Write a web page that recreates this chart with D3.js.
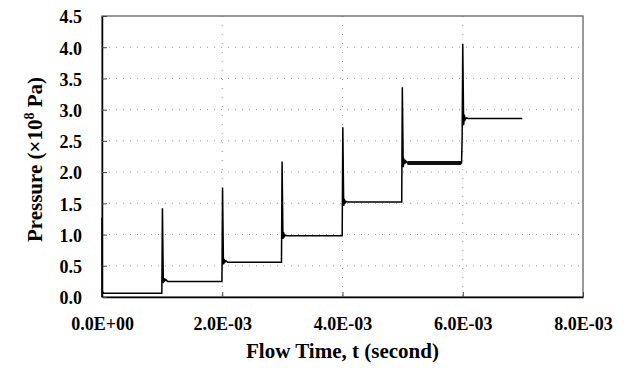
<!DOCTYPE html>
<html>
<head>
<meta charset="utf-8">
<script src="https://cdn.jsdelivr.net/npm/d3@7"></script>
<style>
    body { margin: 0; background: #fff; }
    svg text { font-family: "Liberation Serif", "Times New Roman", serif; font-weight: bold; fill: #000; }
</style>
</head>
<body>
<svg id="chart" width="624" height="374"></svg>
<script>
// Flow time (ms) and pressure (x10^8 Pa)
const timeMs = [
    0, 0, 0.004, 0.01, 0.03, 0.99,
    0.995, 1.005, 1.02, 1.03, 1.045, 1.06, 1.09, 1.99,
    1.995, 2.005, 2.02, 2.03, 2.045, 2.06, 2.09, 2.98,
    2.985, 2.995, 3.01, 3.02, 3.035, 3.05, 3.08, 3.99,
    3.995, 4.005, 4.02, 4.03, 4.045, 4.06, 4.09, 4.98,
    4.985, 4.995, 5.01, 5.02, 5.035, 5.05, 5.08, 5.975,
    5.98, 5.99, 6.0, 6.015, 6.025, 6.04, 6.06, 6.09, 6.99
];
const pressure = [
    0, 1.27, 0.12, 0.08, 0.06, 0.06,
    0.06, 1.42, 0.22, 0.3, 0.26, 0.28, 0.25, 0.25,
    0.25, 1.75, 0.52, 0.61, 0.56, 0.58, 0.555, 0.555,
    0.555, 2.17, 0.93, 1.04, 0.97, 0.99, 0.98, 0.98,
    0.98, 2.72, 1.46, 1.57, 1.51, 1.53, 1.52, 1.52,
    1.52, 3.36, 2.08, 2.22, 2.13, 2.18, 2.145, 2.145,
    2.145, 2.55, 4.05, 2.75, 2.92, 2.84, 2.87, 2.86, 2.86
];
// the plateau between these times is drawn as a noisy (thick) band
const noisyBand = [5.08, 5.975];

const xTicks = [0, 0.002, 0.004, 0.006, 0.008];
const xTickLabels = ["0.0E+00", "2.0E-03", "4.0E-03", "6.0E-03", "8.0E-03"];
const yTicks = [0, 0.5, 1, 1.5, 2, 2.5, 3, 3.5, 4, 4.5];
const yTickLabels = ["0.0", "0.5", "1.0", "1.5", "2.0", "2.5", "3.0", "3.5", "4.0", "4.5"];

const CHART = {
    selector: "#chart",
    margin: { top: 16, right: 41, bottom: 77, left: 102 },
    width: 624,
    height: 374,
};

function drawChart(chart) {
    chart.svg = d3.select(chart.selector);
    const w = chart.width - chart.margin.left - chart.margin.right;
    const h = chart.height - chart.margin.top - chart.margin.bottom;

    const x = d3.scaleLinear().domain([0, 0.008]).range([0, w]);
    const y = d3.scaleLinear().domain([0, 4.5]).range([h, 0]);

    const g = chart.svg.append("g")
        .attr("transform", `translate(${chart.margin.left},${chart.margin.top})`);

    // faint dotted grid
    g.append("g").selectAll("line.hg")
        .data(yTicks.slice(1, -1))
        .join("line")
        .attr("x1", 0).attr("x2", w)
        .attr("y1", d => y(d)).attr("y2", d => y(d))
        .attr("stroke", "#999").attr("stroke-dasharray", "1,6");
    g.append("g").selectAll("line.vg")
        .data(xTicks.slice(1, -1))
        .join("line")
        .attr("y1", 0).attr("y2", h)
        .attr("x1", d => x(d)).attr("x2", d => x(d))
        .attr("stroke", "#999").attr("stroke-dasharray", "1,8");

    // frame
    g.append("rect")
        .attr("width", w).attr("height", h)
        .attr("fill", "none").attr("stroke", "#555").attr("stroke-width", 1.2);

    // axes, ticks pointing inwards
    const xAxis = g.append("g")
        .attr("transform", `translate(0,${h})`)
        .call(d3.axisBottom(x).tickValues(xTicks)
            .tickFormat((d, i) => xTickLabels[i])
            .tickSizeInner(-5).tickSizeOuter(0).tickPadding(20));
    const yAxis = g.append("g")
        .call(d3.axisLeft(y).tickValues(yTicks)
            .tickFormat((d, i) => yTickLabels[i])
            .tickSizeInner(-5).tickSizeOuter(0).tickPadding(20));
    [xAxis, yAxis].forEach(a => {
        a.select(".domain").attr("stroke", "#000").attr("stroke-width", 1.5);
        a.selectAll(".tick line").attr("stroke", "#444");
        a.selectAll("text").attr("font-size", 18)
            .attr("font-family", "Liberation Serif").attr("font-weight", "bold");
    });
    yAxis.selectAll("text").attr("dy", "0.38em");

    // pressure trace
    const data = timeMs.map((t, i) => [t / 1000, pressure[i]]);
    const line = d3.line().x(d => x(d[0])).y(d => y(d[1]));
    g.append("path")
        .datum(data)
        .attr("fill", "none").attr("stroke", "#000")
        .attr("stroke-width", 1.5)
        .attr("d", line);
    g.append("path")
        .datum(data.filter(d => d[0] * 1000 >= noisyBand[0] && d[0] * 1000 <= noisyBand[1]))
        .attr("fill", "none").attr("stroke", "#111")
        .attr("stroke-width", 4)
        .attr("d", line);

    // axis titles
    chart.svg.append("text")
        .attr("x", chart.margin.left + w / 2)
        .attr("y", 358)
        .attr("text-anchor", "middle")
        .attr("font-size", 21)
        .text("Flow Time, t (second)");

    const yt = chart.svg.append("text")
        .attr("transform", `translate(42,${chart.margin.top + h / 2 + 3}) rotate(-90)`)
        .attr("text-anchor", "middle")
        .attr("font-size", 21);
    yt.append("tspan").text("Pressure (\u00d710");
    yt.append("tspan").attr("dy", -8).attr("font-size", 14).text("8");
    yt.append("tspan").attr("dy", 8).text(" Pa)");
}

window.addEventListener("load", function () {
    drawChart(CHART);
});
</script>
</body>
</html>
